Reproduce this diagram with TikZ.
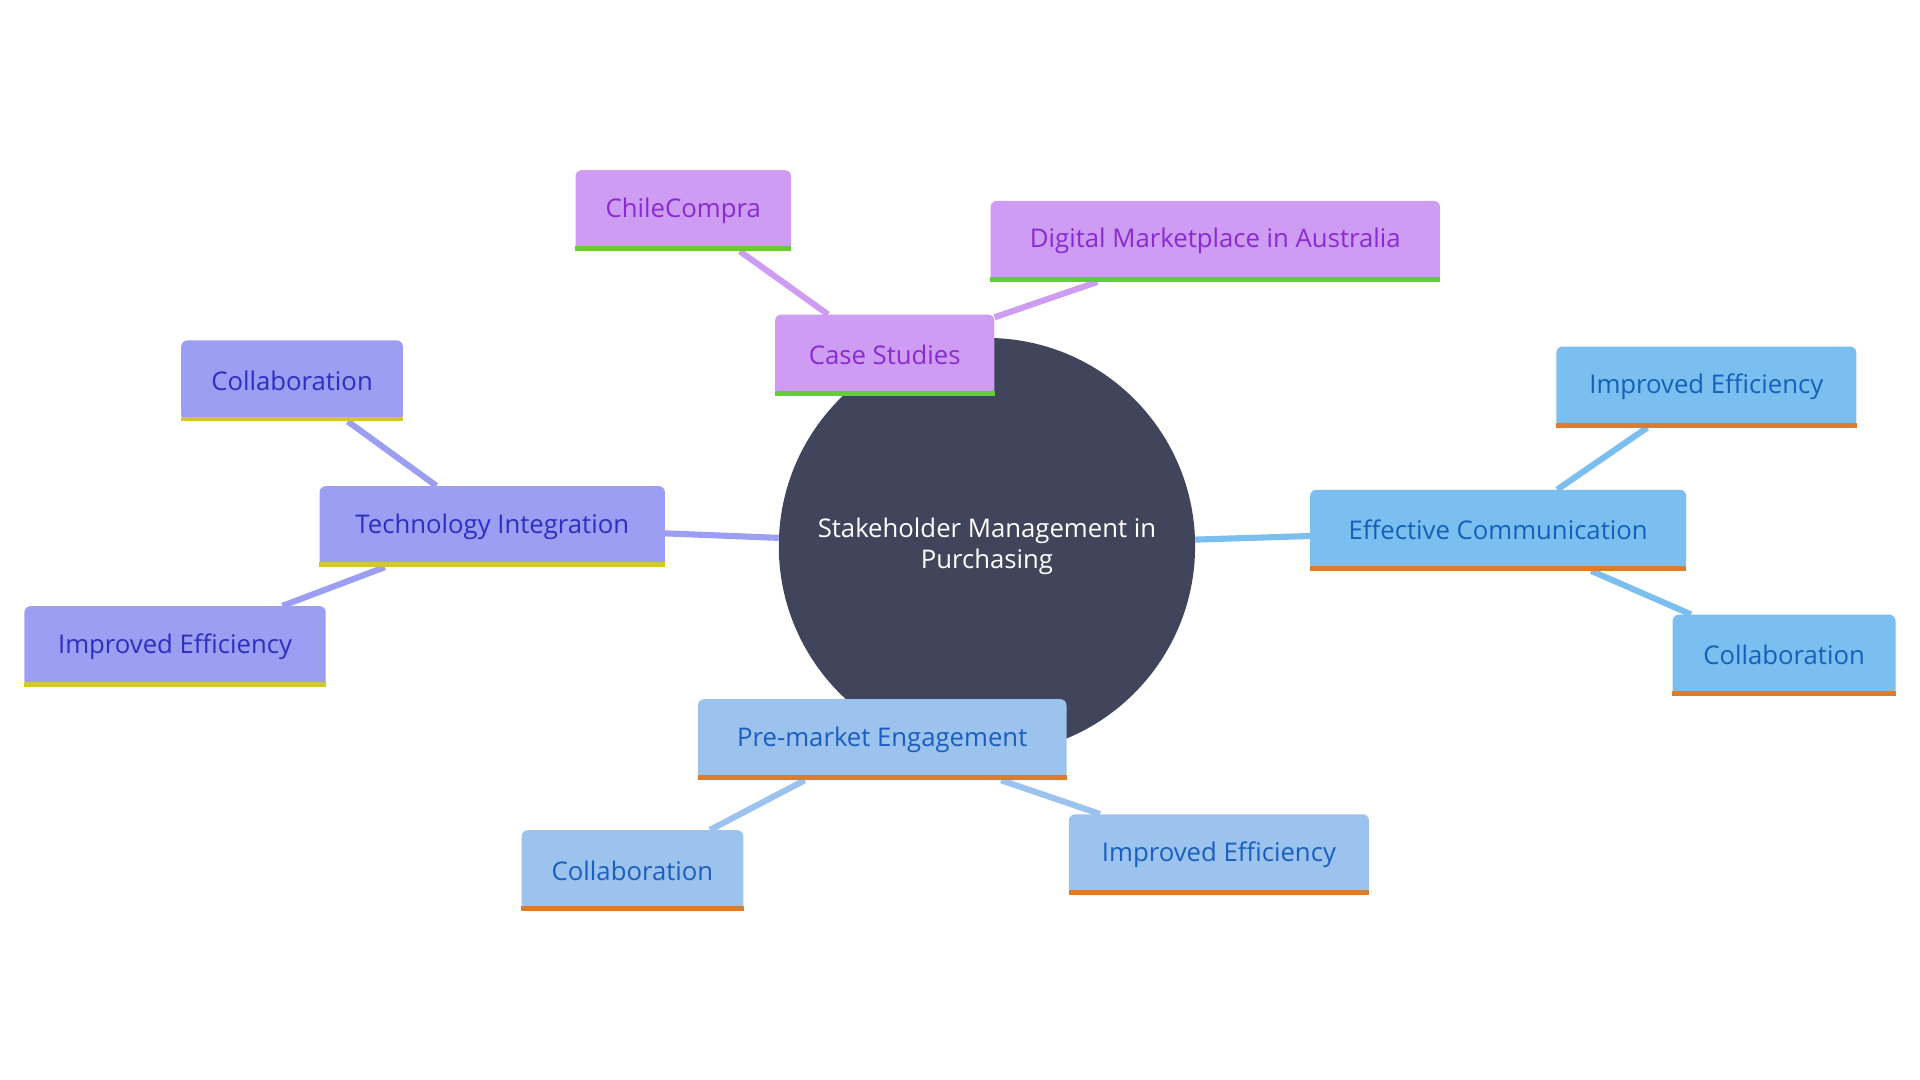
\documentclass[tikz,border=0pt]{standalone}
\usepackage{fontspec}
\setmainfont{Open Sans}
\usetikzlibrary{backgrounds}
\definecolor{circ}{HTML}{41455B}
\definecolor{pfill}{HTML}{CE9CF2}\definecolor{ptext}{HTML}{8A2BD2}\definecolor{pbar}{HTML}{66CC33}
\definecolor{tfill}{HTML}{9B9EF2}\definecolor{ttext}{HTML}{2E2EC0}\definecolor{tbar}{HTML}{D4C72A}
\definecolor{efill}{HTML}{7BBFF0}\definecolor{etext}{HTML}{1560B8}\definecolor{obar}{HTML}{E07B2A}
\definecolor{mfill}{HTML}{9CC2EE}\definecolor{mtext}{HTML}{1A5FC0}
\begin{document}
\begin{tikzpicture}[x=1pt,y=-1pt,
 box/.style={rectangle,rounded corners=5pt,inner sep=0pt,minimum height=66pt,font=\fontsize{21}{25}\selectfont},
 pb/.style={box,fill=pfill,text=ptext},
 tb/.style={box,fill=tfill,text=ttext},
 eb/.style={box,fill=efill,text=etext},
 mb/.style={box,fill=mfill,text=mtext},
 ln/.style={line width=5pt}]
\useasboundingbox (0,0) rectangle (1568,882);
\node[circle,fill=circ,minimum size=340pt,text=white,align=center,font=\fontsize{21}{25}\selectfont] (c) at (806,446) {Stakeholder Management in\\Purchasing};
\node[pb,minimum width=179pt] (cs) at (722.5,290) {Case Studies};
\node[pb,minimum width=176pt] (cc) at (558,172) {ChileCompra};
\node[pb,minimum width=367pt] (dm) at (992.5,197) {Digital Marketplace in Australia};
\node[tb,minimum width=282pt] (ti) at (402,430) {Technology Integration};
\node[tb,minimum width=181pt] (tc) at (238.5,311) {Collaboration};
\node[tb,minimum width=246pt] (tie) at (143,528) {Improved Efficiency};
\node[eb,minimum width=307pt] (ec) at (1223.5,433) {Effective Communication};
\node[eb,minimum width=245pt] (eie) at (1393.5,316) {Improved Efficiency};
\node[eb,minimum width=182pt] (ecl) at (1457,535) {Collaboration};
\node[mb,minimum width=301pt] (pm) at (720.5,604) {Pre-market Engagement};
\node[mb,minimum width=181pt] (mc) at (516.5,711) {Collaboration};
\node[mb,minimum width=245pt] (mie) at (995.5,698) {Improved Efficiency};
\foreach \n/\col in {cs/pbar,cc/pbar,dm/pbar,ti/tbar,tc/tbar,tie/tbar,ec/obar,eie/obar,ecl/obar,pm/obar,mc/obar,mie/obar}
 \draw[line width=4pt,\col] ([yshift=2pt]\n.south west) -- ([yshift=2pt]\n.south east);
\begin{scope}[on background layer]
\draw[ln,pfill] (c) -- (cs); \draw[ln,pfill] (cs) -- (cc); \draw[ln,pfill] (cs) -- (dm);
\draw[ln,tfill] (c) -- (ti); \draw[ln,tfill] (ti) -- (tc); \draw[ln,tfill] (ti) -- (tie);
\draw[ln,efill] (c) -- (ec); \draw[ln,efill] (ec) -- (eie); \draw[ln,efill] (ec) -- (ecl);
\draw[ln,mfill] (c) -- (pm); \draw[ln,mfill] (pm) -- (mc); \draw[ln,mfill] (pm) -- (mie);
\end{scope}
\end{tikzpicture}
\end{document}
